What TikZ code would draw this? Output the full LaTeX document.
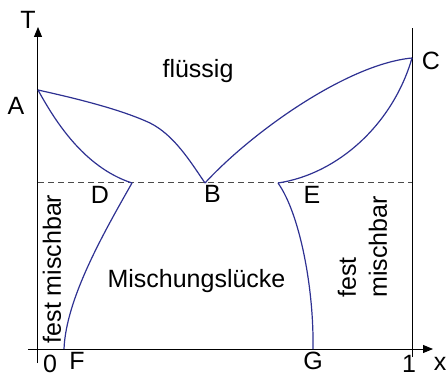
\documentclass[tikz,border=0pt]{standalone}
\usepackage{fontspec}
\setmainfont{Liberation Sans}
\usetikzlibrary{arrows.meta}
\definecolor{kurve}{HTML}{2E3192}
\definecolor{strich}{HTML}{4A4A4A}

\begin{document}
\begin{tikzpicture}[x=1pt,y=1pt,>={Triangle[length=10pt,width=8pt]},
  lbl/.style={font=\fontsize{25}{31}\selectfont,inner sep=0pt},
  phase/.style={kurve,line width=1.2pt}]
\useasboundingbox (-38,-29) rectangle (409,349);
% Achsen
\draw[->,line width=1pt] (-10,0) -- (395,0);
\draw[->,line width=1pt] (0,-14) -- (0,322);
\draw[line width=1pt] (374,-8) -- (374,321);
% Punkte
\coordinate (A) at (0,259);
\coordinate (B) at (167,166);
\coordinate (C) at (374,291);
\coordinate (D) at (94,166);
\coordinate (E) at (240,166);
\coordinate (F) at (26,0);
\coordinate (G) at (275,0);
\draw[strich,line width=1pt,dash pattern=on 6pt off 4pt] (0,166) -- (374,166);
% Kurven
\draw[phase] (A) .. controls (36,251) and (82,240) .. (112,226)
  .. controls (136,214) and (152,188) .. (B);
\draw[phase] (A) .. controls (16,230) and (45,182) .. (D);
\draw[phase] (D) .. controls (65,115) and (28,50) .. (F);
\draw[phase] (B) .. controls (215,218) and (310,285) .. (C);
\draw[phase] (E) .. controls (300,175) and (355,225) .. (C);
\draw[phase] (E) .. controls (262,135) and (276,60) .. (G);
% Beschriftung
\node[lbl] (lT) at (-10,329) {T};
\node[lbl] (lx) at (402,-15) {x};
\node[lbl] (l0) at (12,-15) {0};
\node[lbl] (l1) at (371,-15) {1};
\node[lbl] (lA) at (-22,243) {A};
\node[lbl] (lB) at (174.5,155) {B};
\node[lbl] (lC) at (393,288) {C};
\node[lbl] (lD) at (62,154) {D};
\node[lbl] (lE) at (274,154) {E};
\node[lbl] (lF) at (39,-12) {F};
\node[lbl] (lG) at (275,-12) {G};
\node[lbl,anchor=base] (fl) at (160,271) {flüssig};
\node[lbl,anchor=base] (mi) at (158.5,62) {Mischungslücke};
\node[lbl,rotate=90] (fm1) at (14,80) {fest mischbar};
\node[lbl,rotate=90,align=left] (fm2) at (324.5,102) {fest\\mischbar};
\end{tikzpicture}
\end{document}
